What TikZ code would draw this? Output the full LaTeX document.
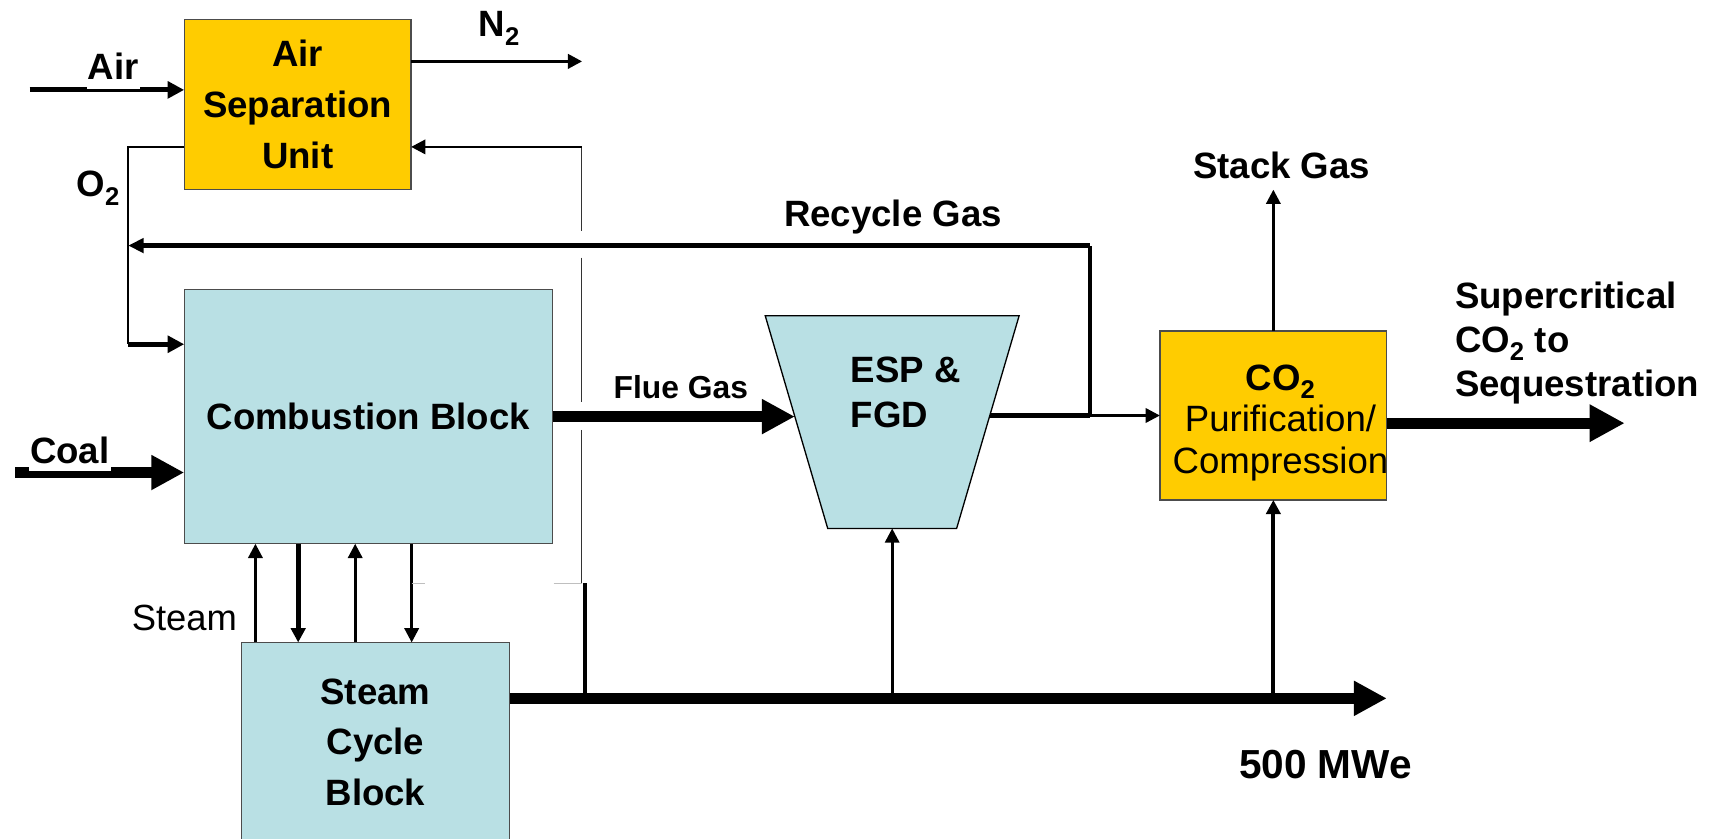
\documentclass[tikz,border=0pt]{standalone}
\usepackage{fontspec}
\setmainfont{Liberation Sans}
\usepackage{tikz}
\usetikzlibrary{positioning, arrows.meta, shapes.geometric}
\definecolor{asugold}{RGB}{255,204,0}
\definecolor{blockblue}{RGB}{185,224,228}

\begin{document}
\begin{tikzpicture}[
        x=1pt, y=-1pt,
        box/.style = {draw=black!70, line width=1.2pt, inner sep=0pt, outer sep=0pt, align=center, font=\fontsize{33.4}{46.4}\selectfont\bfseries},
        lbl/.style = {inner sep=0pt, font=\fontsize{33.4}{40.5}\selectfont\bfseries},
        wire/.style = {line width=2.5pt},
        pipe/.style = {line width=4.5pt},
        duct/.style = {line width=10pt},
        feed/.style = {line width=1.3pt, black!80},
        ghost/.style = {line width=1.2pt, black!25},
        arrhead/.style = {-{Triangle[length=13pt, width=13pt]}},
        midhead/.style = {-{Triangle[length=15pt, width=15pt]}},
        bighead/.style = {-{Triangle[length=30pt, width=30pt]}},
    ]
        \useasboundingbox (0,0) rectangle (1568,765);
        \clip (0,0) rectangle (1568,765);

        \node[box, fill=asugold, minimum width=207pt, minimum height=155pt] (asu) at (271.5,95.2) {Air\\Separation\\Unit};
        \node[box, fill=blockblue, minimum width=336pt, minimum height=232pt] (comb) at (336,380) {Combustion Block};
        \node[box, fill=blockblue, minimum width=245pt, minimum height=182pt, font=\fontsize{33.4}{46}\selectfont\bfseries] (steam) at (342.5,677) {Steam\\Cycle\\Block};
        \node[inner sep=0pt, outer sep=0pt, minimum width=231.6pt, minimum height=194pt] (esp) at (813.8,385) {};
        \filldraw[fill=blockblue, draw=black, line width=1.2pt] (esp.north west) -- (esp.north east) -- ([xshift=-57pt]esp.south east) -- ([xshift=57pt]esp.south west) -- cycle;
        \node[box, fill=asugold, minimum width=207pt, minimum height=154pt] (co2) at (1161.5,379) {};

        \coordinate (airin) at (27,82);
        \coordinate (coalin) at (14,431);
        \coordinate (n2out) at (531,56);
        \coordinate (o2top) at (117,134);
        \coordinate (o2bot) at (117,314);
        \coordinate (recyc) at (117,224);
        \coordinate (espin) at (725,380);
        \coordinate (espout) at (902.6,379);
        \coordinate (split) at (994,379);
        \coordinate (feedtop) at (530.5,134);
        \coordinate (gapa) at (530.5,211);
        \coordinate (gapb) at (530.5,235);
        \coordinate (gapc) at (530.5,367);
        \coordinate (gapd) at (530.5,392);
        \coordinate (feedlo) at (530.5,532);
        \coordinate (stub) at (534,532);
        \coordinate (pwrend) at (1265,637);
        \coordinate (scout) at (1482,386);
        \coordinate (stacktip) at (1161.5,173);

        \draw[pipe, midhead] (airin) -- (airin -| asu.west);
        \draw[line width=3pt, arrhead] (n2out -| asu.east) -- (n2out);
        \draw[line width=2pt] (o2top -| asu.west) -- (o2top) -- (o2bot);
        \draw[pipe, midhead] (o2bot) -- (o2bot -| comb.west);
        \draw[duct, bighead] (coalin) -- (coalin -| comb.west);
        \draw[duct, bighead] (comb.east) -- (espin);
        \draw[line width=3.7pt] (espout) -- (split);
        \draw[wire, arrhead] (split) -- (split -| co2.west);
        \draw[line width=3.3pt] (split) -- (split |- recyc);
        \draw[line width=5pt, -{Triangle[length=14pt, width=13pt]}] (split |- recyc) -- (recyc);
        \draw[wire, arrhead] (co2.north) -- (stacktip);
        \draw[duct, -{Triangle[length=32pt, width=32pt]}] (scout -| co2.east) -- (scout);
        \draw[duct, bighead] (steam.east |- pwrend) -- (pwrend);
        \draw[line width=3.7pt] (stub |- pwrend) -- (stub);
        \draw[wire, arrhead] (esp.south |- pwrend) -- (esp.south);
        \draw[line width=3.6pt, arrhead] (co2.south |- pwrend) -- (co2.south);
        \draw[feed] (feedtop) -- (gapa) (gapb) -- (gapc) (gapd) -- (feedlo);
        \draw[wire, arrhead] (feedtop) -- (feedtop -| asu.east);
        \foreach \x in {233,324}
            \draw[wire, arrhead] (steam.north -| \x,0) -- (comb.south -| \x,0);
        \draw[pipe, arrhead] (comb.south -| 272,0) -- (steam.north -| 272,0);
        \draw[wire, arrhead] (comb.south -| 375.5,0) -- (steam.north -| 375.5,0);
        \draw[ghost] (375.5,532) -- (388,532);
        \draw[ghost] (505,532) -- (feedlo);

        \node[lbl, anchor=base, fill=white, inner xsep=1pt, inner ysep=9pt] (airlbl) at (103.4,72.4) {Air};
        \node[lbl, anchor=base, fill=white, inner xsep=1pt, inner ysep=6.7pt] (coallbl) at (63.7,422.6) {Coal};
        \node[lbl, anchor=base west] (n2lbl) at (436.5,33.4) {N\textsubscript{2}};
        \node[lbl, anchor=base west] (o2lbl) at (69.8,179.4) {O\textsubscript{2}};
        \node[lbl, anchor=base, font=\fontsize{29}{34}\selectfont\bfseries] (fluelbl) at (621,363.3) {Flue Gas};
        \node[lbl, anchor=base] (recylbl) at (814.5,206.8) {Recycle Gas};
        \node[lbl, anchor=base] (stacklbl) at (1169,162.7) {Stack Gas};
        \node[lbl, anchor=base, font=\fontsize{37}{44}\selectfont\bfseries] (mwelbl) at (1209,709.8) {500 MWe};
        \node[lbl, anchor=base west, font=\fontsize{33.2}{40}\selectfont] (steamlbl) at (120,574.7) {Steam};
        \node[lbl, anchor=north west, align=left] (scolbl) at (1327,256.6) {Supercritical\\CO\textsubscript{2} to\\Sequestration};
        \node[lbl, anchor=north west, align=left, font=\fontsize{33.4}{40.7}\selectfont\bfseries] (esptxt) at (776,325.6) {ESP \&\\FGD};
        \node[lbl, anchor=north, align=center, font=\fontsize{33.4}{38}\selectfont] (co2txt) at (1168,332.5) {\textbf{CO\textsubscript{2}}\\Purification/\\Compression};
    \end{tikzpicture}
\end{document}
